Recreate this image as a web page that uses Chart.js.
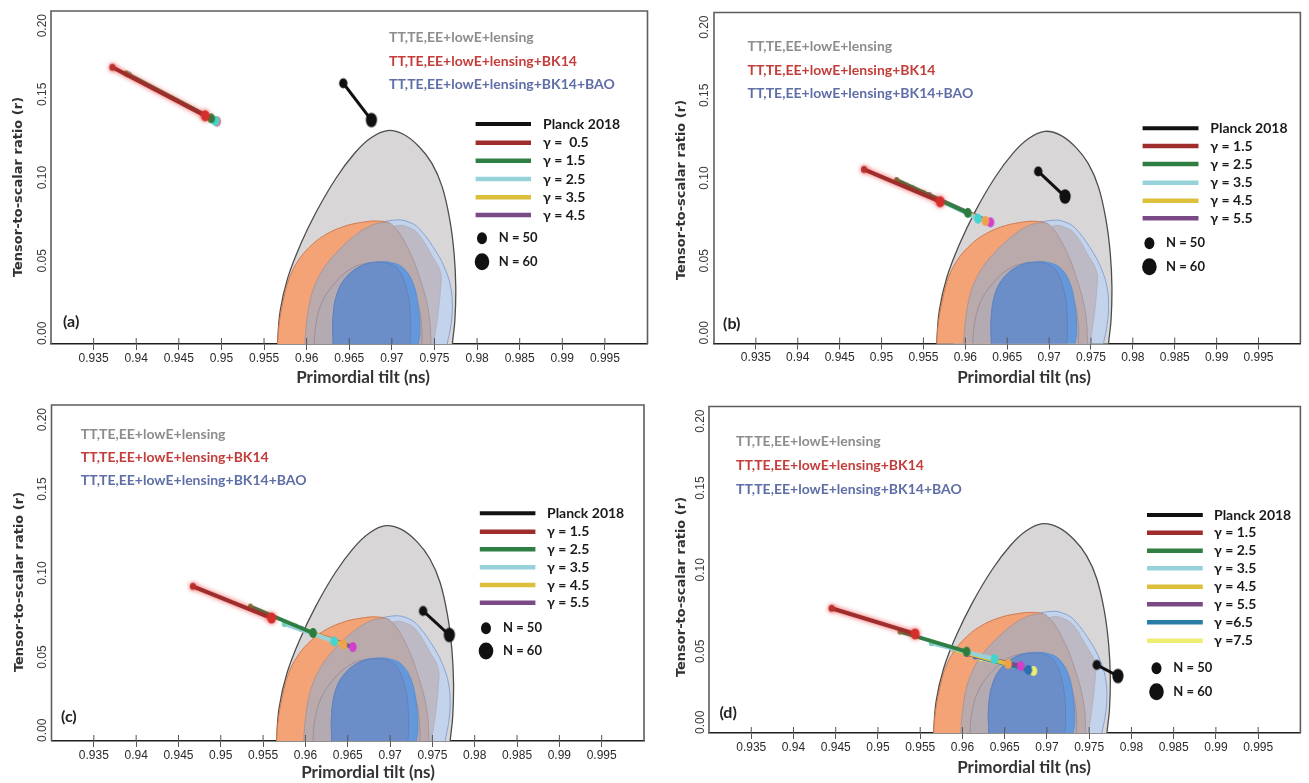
<!DOCTYPE html>
<html><head><meta charset="utf-8">
<script src="https://cdn.jsdelivr.net/npm/chart.js@4.4.1/dist/chart.umd.min.js"></script>
<style>
html,body{margin:0;padding:0;background:#fff;width:1309px;height:783px;overflow:hidden;}
canvas{position:absolute;left:0;top:0;}
</style></head><body>
<canvas id="ca" width="1309" height="783"></canvas>
<canvas id="cb" width="1309" height="783"></canvas>
<canvas id="cc" width="1309" height="783"></canvas>
<canvas id="cd" width="1309" height="783"></canvas>
<script>
// ---------- axes ----------
const xTickValues = [0.935,0.94,0.945,0.95,0.955,0.96,0.965,0.97,0.975,0.98,0.985,0.99,0.995];
const xTickLabels = ['0.935','0.94','0.945','0.95','0.955','0.96','0.965','0.97','0.975','0.98','0.985','0.99','0.995'];
const yTickValues = [0,0.05,0.10,0.15,0.20];
const yTickLabels = ['0.00','0.05','0.10','0.15','0.20'];
const xTitle = 'Primordial tilt (ns)';
const yTitle = 'Tensor-to-scalar ratio (r)';

// ---------- Planck 2018 contour legend ----------
const contourNames = ['TT,TE,EE+lowE+lensing','TT,TE,EE+lowE+lensing+BK14','TT,TE,EE+lowE+lensing+BK14+BAO'];

// ---------- contour outlines (ns, r) ----------
const gray95Ns = [0.9566,0.9566,0.9569,0.9578,0.9593,0.9612,0.9635,0.9657,0.9676,0.9695,0.9714,0.9732,0.9747,0.9759,0.9768,0.9773,0.9775,0.9774,0.9771,0.9770];
const gray95R  = [-0.01,0.000,0.020,0.040,0.060,0.080,0.100,0.115,0.124,0.1282,0.1258,0.1185,0.1085,0.0945,0.0745,0.0546,0.0344,0.0144,0.000,-0.01];
const blue95Ns = [0.9586,0.9586,0.9590,0.9600,0.9618,0.9645,0.9675,0.9705,0.9722,0.97335,0.9753,0.9763,0.9769,0.9771,0.9769,0.9765,0.9762];
const blue95R  = [-0.01,0.000,0.015,0.030,0.045,0.060,0.0705,0.0745,0.0728,0.0685,0.0546,0.0444,0.0344,0.0224,0.0104,0.000,-0.01];
const blueMidNs = [0.9600,0.9602,0.9612,0.9630,0.9655,0.9683,0.9707,0.9722,0.9732,0.9747,0.9757,0.9757,0.9755,0.9752,0.9749,0.9747];
const blueMidR  = [-0.01,0.000,0.020,0.040,0.055,0.066,0.0712,0.0695,0.0655,0.053,0.043,0.033,0.022,0.010,0.000,-0.01];
const orange95Ns = [0.9566,0.9566,0.9568,0.9573,0.9580,0.9590,0.9603,0.9620,0.9642,0.9664,0.9685,0.9698,0.9712,0.9725,0.9734,0.9737,0.9736];
const orange95R  = [-0.01,0.000,0.013,0.027,0.040,0.050,0.058,0.065,0.0703,0.0730,0.0738,0.0718,0.060,0.045,0.025,0.000,-0.01];
const gray68Ns = [0.9598,0.9598,0.9600,0.9604,0.9611,0.9622,0.9637,0.9655,0.9673,0.9688,0.9700,0.9718,0.97335,0.97434,0.9746,0.9746];
const gray68R  = [-0.01,0.000,0.013,0.026,0.037,0.047,0.056,0.0645,0.0705,0.0728,0.0718,0.0585,0.0384,0.0184,0.000,-0.01];
const inner68Ns = [0.9609,0.9609,0.9611,0.9618,0.9632,0.9650,0.9668,0.9688,0.9708,0.9722,0.9731,0.9735,0.9735,0.9734];
const inner68R  = [-0.01,0.000,0.012,0.025,0.036,0.0445,0.0482,0.0478,0.0440,0.036,0.024,0.010,0.000,-0.01];
const blue68Ns = [0.9631,0.9631,0.9631,0.9636,0.9647,0.9666,0.9686,0.9702,0.9714,0.9725,0.9731,0.9733,0.9731,0.9729];
const blue68R  = [-0.01,0.000,0.0164,0.0306,0.0404,0.0475,0.0494,0.0485,0.0454,0.0364,0.0224,0.0064,0.000,-0.01];
const blue68CoreNs = [0.9631,0.9631,0.9631,0.9636,0.9647,0.9666,0.9685,0.9699,0.9708,0.9716,0.9721,0.9722,0.9721,0.9720];
const blue68CoreR  = [-0.01,0.000,0.0164,0.0306,0.0404,0.0472,0.0490,0.0478,0.0444,0.0354,0.0224,0.0064,0.000,-0.01];

// ---------- model predictions: N=50 and N=60 end points ----------
const aNames = ['Planck 2018','γ =  0.5','γ = 1.5','γ = 2.5','γ = 3.5','γ = 4.5'];
const aNs50 = [0.9643,0.9372,0.9388,0.9390,0.9391,0.9392];
const aR50  = [0.1566,0.1662,0.1625,0.1620,0.1618,0.1616];
const aNs60 = [0.9676,0.9481,0.9488,0.9493,0.9494,0.9495];
const aR60  = [0.1345,0.1371,0.1355,0.1339,0.1338,0.1336];

const bNames = ['Planck 2018','γ = 1.5','γ = 2.5','γ = 3.5','γ = 4.5','γ = 5.5'];
const bNs50 = [0.9687,0.9479,0.9518,0.9537,0.9550,0.9557];
const bR50  = [0.1040,0.1052,0.0988,0.0940,0.0911,0.0897];
const bNs60 = [0.9719,0.9570,0.9603,0.9615,0.9624,0.9630];
const bR60  = [0.0888,0.0857,0.0789,0.0754,0.0740,0.0732];

const cNames = ['Planck 2018','γ = 1.5','γ = 2.5','γ = 3.5','γ = 4.5','γ = 5.5'];
const cNs50 = [0.9739,0.9467,0.9535,0.9575,0.9588,0.9595];
const cR50  = [0.0774,0.0921,0.0800,0.0696,0.0683,0.0668];
const cNs60 = [0.9770,0.9560,0.9609,0.9634,0.9645,0.9656];
const cR60  = [0.0631,0.0732,0.0643,0.0593,0.0574,0.0559];

const dNames = ['Planck 2018','γ = 1.5','γ = 2.5','γ = 3.5','γ = 4.5','γ = 5.5','γ =6.5','γ =7.5'];
const dNs50 = [0.9759,0.9445,0.9526,0.9563,0.9590,0.9605,0.9615,0.9622];
const dR50  = [0.0417,0.0764,0.0621,0.0550,0.0510,0.0485,0.0470,0.0458];
const dNs60 = [0.9784,0.9544,0.9605,0.9638,0.9654,0.9669,0.9678,0.9684];
const dR60  = [0.0349,0.0607,0.0498,0.0453,0.0423,0.0410,0.0386,0.0380];

// ---------- styles ----------
const lineColors  = ['#111111','#9e2d2b','#2f7f45','#97d2da','#dcc03c','#7a4a86','#2c7da5','#efec72'];
const dot50Colors = ['#111111','#b83030','#6a7a35','#72cdb8','#d9a050','#a04fa0','#2d6db3','#e6e870'];
const dot60Colors = ['#111111','#d3302d','#2c7c3b','#41d4d0','#efa24c','#d23fc8','#2d6db3','#eef06c'];
const contourTextColors = ['#8d8d8d','#c33d3a','#5f6ea6'];

const contourStyles = [ // top-most first
  {ns:blue68CoreNs, r:blue68CoreR, fill:'#6b8dc8', stroke:'#6482bb', w:1},
  {ns:blue68Ns, r:blue68R, fill:'#6498da', stroke:'#5d8fcf', w:1},
  {ns:inner68Ns, r:inner68R, fill:'#b3abb1', stroke:'#9f8f97', w:1},
  {ns:gray68Ns, r:gray68R, fill:'#bbaaab', stroke:'#a8979c', w:1},
  {ns:orange95Ns, r:orange95R, fill:'#f3a376', stroke:'#cf7b50', w:1},
  {ns:blueMidNs, r:blueMidR, fill:'#bdbac5', stroke:'#b0adbb', w:0.8},
  {ns:blue95Ns, r:blue95R, fill:'#c4d3ec', stroke:'#86a2d2', w:1},
  {ns:gray95Ns, r:gray95R, fill:'#d9d6d8', stroke:'#4e4e4e', w:1.3}
];

const panels = [
  {id:'ca', names:aNames, ns50:aNs50, r50:aR50, ns60:aNs60, r60:aR60, tag:'(a)',
   area:{L:51,T:11,R:647.5,B:344}, yTickX:42.5, yTitlePos:[19,187], xTitlePos:[363,378], tagPos:[63,322],
   textLeg:{x:389, ys:[37,61,84]}, lineLeg:{sx:[475.6,531], tx:543, rows:[124,142.7,160.7,179,197.3,215], dx:482, dys:[238.3,261.7], dtx:498.7}},
  {id:'cb', names:bNames, ns50:bNs50, r50:bR50, ns60:bNs60, r60:bR60, tag:'(b)',
   area:{L:714,T:12.5,R:1306,B:343.5}, yTickX:704.5, yTitlePos:[681.5,190], xTitlePos:[1024,378], tagPos:[723,324],
   textLeg:{x:747.5, ys:[46.7,70,93.3]}, lineLeg:{sx:[1142.6,1198.5], tx:1210.3, rows:[128.3,146,164,182.7,200.7,218.3], dx:1149.4, dys:[243.3,266.7], dtx:1166}},
  {id:'cc', names:cNames, ns50:cNs50, r50:cR50, ns60:cNs60, r60:cR60, tag:'(c)',
   area:{L:51.5,T:405,R:644,B:741}, yTickX:42.5, yTitlePos:[20,582], xTitlePos:[368,773], tagPos:[61,716.7],
   textLeg:{x:80.8, ys:[434,457.3,480.7]}, lineLeg:{sx:[479.8,535.4], tx:547, rows:[513.3,531.7,549.3,567.3,585,602.7], dx:486, dys:[628.3,651], dtx:503}},
  {id:'cd', names:dNames, ns50:dNs50, r50:dR50, ns60:dNs60, r60:dR60, tag:'(d)',
   area:{L:709,T:406.5,R:1303.5,B:733}, yTickX:700.5, yTitlePos:[681.5,587], xTitlePos:[1024,768], tagPos:[719.4,712.7],
   textLeg:{x:736, ys:[441.7,465,489]}, lineLeg:{sx:[1147,1202.8], tx:1214, rows:[515,532.7,550.7,568.3,586.7,604.3,622.3,640.7], dx:1156.5, dys:[668.3,691.7], dtx:1173.3}}
];

// elliptical dot marker (the original figure is slightly stretched vertically)
function ellipseMarker(color, rx, ry){
  const c = document.createElement('canvas');
  c.width = Math.ceil(rx * 2 + 2); c.height = Math.ceil(ry * 2 + 2);
  const g = c.getContext('2d');
  g.fillStyle = color; g.beginPath(); g.ellipse(c.width / 2, c.height / 2, rx, ry, 0, 0, Math.PI * 2); g.fill();
  return c;
}

function makeDecor(p){
  return {
    id:'decor'+p.id,
    beforeDatasetDraw(chart, args){
      if (args.index === 1){ chart.ctx.save(); chart.ctx.shadowColor='rgba(235,40,40,0.8)'; chart.ctx.shadowBlur=5; }
    },
    afterDatasetDraw(chart, args){
      if (args.index === 1){ chart.ctx.restore(); }
    },
    afterDraw(chart){
      const ctx = chart.ctx;
      const {left, top, right, bottom} = chart.chartArea;
      const xs = chart.scales.x, ys = chart.scales.y;
      ctx.save();
      // frame
      ctx.strokeStyle = '#5e5e5e'; ctx.lineWidth = 1.6;
      ctx.beginPath(); ctx.moveTo(left, bottom); ctx.lineTo(left, top); ctx.lineTo(right, top); ctx.lineTo(right, bottom); ctx.stroke();
      // inward part of x ticks
      ctx.strokeStyle = '#555'; ctx.lineWidth = 1;
      xTickValues.forEach(v => { const px = xs.getPixelForValue(v); ctx.beginPath(); ctx.moveTo(px, bottom); ctx.lineTo(px, bottom - 6); ctx.stroke(); });
      // y tick labels (rotated)
      ctx.fillStyle = '#3a3a3a'; ctx.font = '12px "Liberation Sans", Arial, sans-serif'; ctx.textBaseline = 'middle';
      yTickValues.forEach((v, i) => {
        let anchor = ys.getPixelForValue(v), align = 'center';
        if (i === 0){ align = 'left'; anchor = bottom + 1; }
        else if (i === yTickValues.length - 1){ align = 'right'; anchor = top + 3; }
        ctx.save(); ctx.translate(p.yTickX, anchor); ctx.rotate(-Math.PI/2); ctx.textAlign = align; ctx.fillText(yTickLabels[i], 0, 0); ctx.restore();
      });
      // axis titles
      ctx.fillStyle = '#333'; ctx.textAlign = 'center';
      ctx.font = 'bold 13px "DejaVu Sans", sans-serif';
      ctx.save(); ctx.translate(p.yTitlePos[0], p.yTitlePos[1]); ctx.rotate(-Math.PI/2); ctx.fillText(yTitle, 0, 0); ctx.restore();
      ctx.font = 'bold 17px Lato, "Open Sans", sans-serif';
      ctx.fillText(xTitle, p.xTitlePos[0], p.xTitlePos[1]);
      // panel tag
      ctx.textAlign = 'left'; ctx.fillStyle = '#222'; ctx.font = 'bold 16px Lato, sans-serif';
      ctx.fillText(p.tag, p.tagPos[0], p.tagPos[1]);
      // contour text legend
      ctx.font = 'bold 14px Lato, "Open Sans", sans-serif';
      contourNames.forEach((t, i) => { ctx.fillStyle = contourTextColors[i]; ctx.fillText(t, p.textLeg.x, p.textLeg.ys[i]); });
      // line legend
      const L = p.lineLeg;
      p.names.forEach((t, i) => {
        ctx.strokeStyle = lineColors[i]; ctx.lineWidth = i === 0 ? 4 : 4.5; ctx.lineCap = 'butt';
        ctx.beginPath(); ctx.moveTo(L.sx[0], L.rows[i]); ctx.lineTo(L.sx[1], L.rows[i]); ctx.stroke();
        ctx.fillStyle = '#1a1a1a'; ctx.fillText(t, L.tx, L.rows[i]);
      });
      ctx.fillStyle = '#111';
      ctx.beginPath(); ctx.ellipse(L.dx, L.dys[0], 5, 6, 0, 0, Math.PI*2); ctx.fill();
      ctx.beginPath(); ctx.ellipse(L.dx, L.dys[1], 7.3, 8.5, 0, 0, Math.PI*2); ctx.fill();
      ctx.fillStyle = '#1a1a1a'; ctx.font = 'bold 13px Lato, sans-serif';
      ctx.fillText('N = 50', L.dtx, L.dys[0]);
      ctx.fillText('N = 60', L.dtx, L.dys[1]);
      ctx.restore();
    }
  };
}

function buildDatasets(p){
  const series = p.names.map((name, i) => {
    const r50 = i === 0 ? 4.2 : (i === 1 ? 3 : 2.5);
    const r60 = i === 0 ? 5.6 : (i === 1 ? 4.3 : 3.8);
    return {
      label: name,
      data: [{x:p.ns50[i], y:p.r50[i]}, {x:p.ns60[i], y:p.r60[i]}],
      showLine: true,
      borderColor: lineColors[i],
      borderWidth: i === 0 ? 3 : 4,
      pointStyle: [ellipseMarker(dot50Colors[i], r50, r50 * 1.2), ellipseMarker(dot60Colors[i], r60, r60 * 1.3)],
      pointRadius: [r50, r60],
      fill: false
    };
  });
  const shapes = contourStyles.map((c, k) => ({
    label: 'contour' + k,
    data: c.ns.map((x, i) => ({x, y:c.r[i]})),
    showLine: true, indexAxis: 'y',
    fill: 'shape', backgroundColor: c.fill, borderColor: c.stroke, borderWidth: c.w,
    pointRadius: 0, tension: 0.4
  }));
  return series.concat(shapes);
}

panels.forEach(p => {
  const a = p.area;
  new Chart(document.getElementById(p.id), {
    type: 'scatter',
    data: {datasets: buildDatasets(p)},
    plugins: [makeDecor(p)],
    options: {
      responsive: false, animation: false, events: [],
      layout: {padding: {left: a.L, top: a.T, right: 1309 - a.R, bottom: 783 - a.B - 30}},
      plugins: {legend: {display: false}, tooltip: {enabled: false}},
      scales: {
        x: {type: 'linear', min: 0.93, max: 1.0, z: 1,
            afterBuildTicks: s => { s.ticks = xTickValues.map(v => ({value: v})); },
            afterFit: s => { s.height = 30; },
            ticks: {autoSkip: false, maxRotation: 0, minRotation: 0, padding: 1, color: '#2a2a2a',
                    font: {family: '"Liberation Sans", Arial, sans-serif', size: 12},
                    callback: (v, i) => xTickLabels[i]},
            grid: {drawOnChartArea: false, drawTicks: true, tickLength: 6, color: '#555', lineWidth: 1},
            border: {display: true, color: '#1e1e1e', width: 1.6}},
        y: {type: 'linear', min: 0, max: 0.2, display: false}
      }
    }
  });
});
</script>
</body></html>
